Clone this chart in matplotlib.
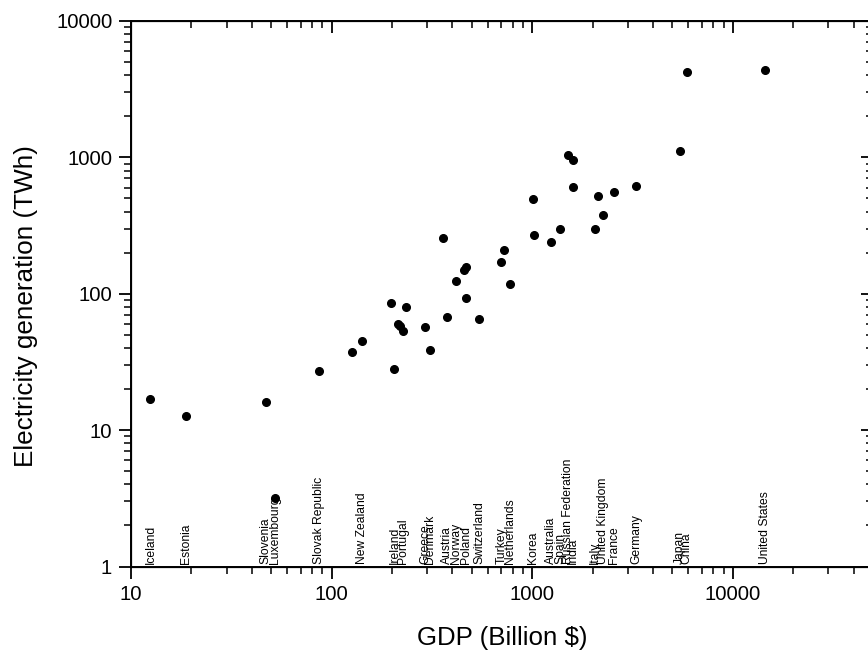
import matplotlib
matplotlib.use("Agg")
import matplotlib.pyplot as plt
from matplotlib.ticker import FuncFormatter, NullFormatter, LogLocator

# GDP (Billion $) and electricity generation (TWh) per country
gdp = [12.5, 18.9, 47, 52.5, 86.9, 127, 141.6, 198, 205.6, 215, 220, 227.6, 235.6,
       292, 310, 360, 377.6, 418.7, 459, 468, 470, 545, 703, 726, 774, 1007, 1026,
       1240, 1377, 1510, 1603, 1603, 2051, 2129, 2250, 2560, 3290, 5470, 5900, 14400]
elec = [17.0, 12.8, 16.0, 3.19, 27.3, 37.2, 44.8, 85.1, 28.2, 60, 58, 53.3, 80.3,
        57.3, 38.7, 256, 67.8, 124, 149, 156, 93.5, 65.6, 170, 210, 117, 497, 271,
        240, 298, 1040, 960, 609, 297, 518, 377, 560, 620, 1112, 4220, 4365]
labels = ["Iceland", "Estonia", "Slovenia", "Luxembourg", "Slovak Republic", "",
          "New Zealand", "", "Ireland", "", "", "Portugal", "", "Greece", "Denmark",
          "", "Austria", "Norway", "", "Poland", "", "Switzerland", "Turkey", "",
          "Netherlands", "Korea", "", "Australia", "Spain", "Russian Federation",
          "India", "", "Italy", "", "United Kingdom", "France", "Germany", "Japan",
          "China", "United States"]

xlim = (10, 50000)
ylim = (1, 10000)

plt.rcParams['font.family'] = ['Liberation Sans', 'DejaVu Sans']

fig = plt.figure(figsize=(8.68, 6.52), dpi=100)
ax = fig.add_axes([131/868, (652-566.5)/652, (873-131)/868, (566.5-21)/652])

ax.plot(gdp, elec, 'o', color='black', markersize=5.5, linestyle='none')
ax.set_xscale('log')
ax.set_yscale('log')
ax.set_xlim(*xlim)
ax.set_ylim(*ylim)

for g, name in zip(gdp, labels):
    if name:
        ax.text(g, 1.04, name, rotation=90, ha='center', va='bottom', fontsize=8.7)

fmt = FuncFormatter(lambda v, p: f"{v:g}")
for axis in (ax.xaxis, ax.yaxis):
    axis.set_major_locator(LogLocator(base=10, numticks=10))
    axis.set_minor_locator(LogLocator(base=10, subs=range(2, 10), numticks=100))
    axis.set_major_formatter(fmt)
    axis.set_minor_formatter(NullFormatter())

ax.tick_params(which='major', direction='out', length=8.5, width=1.3,
               labelsize=14.6, pad=5)
ax.tick_params(which='minor', direction='out', length=5, width=1.1)
for s in ax.spines.values():
    s.set_linewidth(1.4)

ax.set_xlabel("GDP (Billion $)", fontsize=18.6, labelpad=15.5)
fig.text(0.030, (652 - 306) / 652, "Electricity generation (TWh)", fontsize=18.8,
         rotation=90, ha='center', va='center')

# inward ticks on top and right
axt = ax.twiny()
axt.set_xscale('log')
axt.set_xlim(*xlim)
axt.xaxis.set_major_locator(LogLocator(base=10, numticks=10))
axt.xaxis.set_minor_locator(LogLocator(base=10, subs=range(2, 10), numticks=100))
axt.tick_params(which='major', direction='in', length=8.5, width=1.3, labeltop=False)
axt.tick_params(which='minor', direction='in', length=5, width=1.1)

axr = ax.twinx()
axr.set_yscale('log')
axr.set_ylim(*ylim)
axr.yaxis.set_major_locator(LogLocator(base=10, numticks=10))
axr.yaxis.set_minor_locator(LogLocator(base=10, subs=range(2, 10), numticks=100))
axr.tick_params(which='major', direction='in', length=8.5, width=1.3, labelright=False)
axr.tick_params(which='minor', direction='in', length=5, width=1.1)

fig.savefig("out.png", dpi=100)
